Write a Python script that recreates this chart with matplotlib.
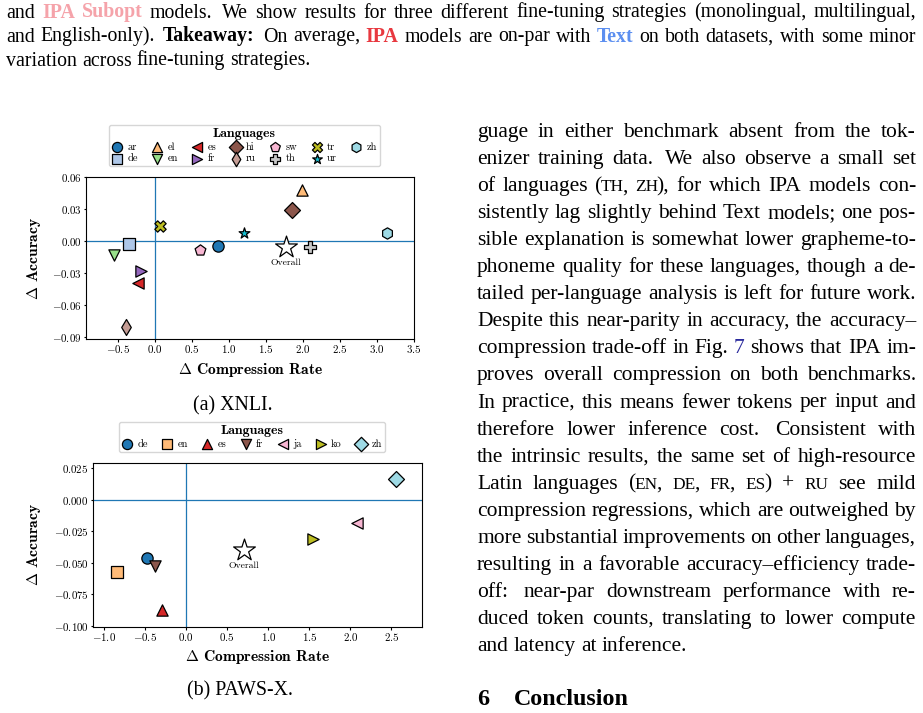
import re
import matplotlib
matplotlib.use("Agg")
import matplotlib.pyplot as plt
from matplotlib.font_manager import FontProperties
from matplotlib.ticker import FuncFormatter, MultipleLocator

plt.rcParams['font.family'] = 'cmr10'
plt.rcParams['mathtext.fontset'] = 'cm'
plt.rcParams['axes.formatter.use_mathtext'] = True

W, H = 923, 713

# ---- XNLI data (delta compression rate, delta accuracy) ----
xnli_langs = ['ar', 'de', 'el', 'en', 'es', 'fr', 'hi', 'ru', 'sw', 'th', 'tr', 'ur', 'zh']
xnli_dcomp = [0.86, -0.34, 1.99, -0.55, -0.23, -0.185, 1.86, -0.39, 0.62, 2.10, 0.07, 1.21, 3.135]
xnli_dacc = [-0.0041, -0.0028, 0.0482, -0.0132, -0.039, -0.0276, 0.0294, -0.0808,
             -0.0085, -0.0053, 0.0141, 0.0078, 0.0078]
xnli_overall = (1.77, -0.0053)

# ---- PAWS-X data ----
paws_langs = ['de', 'en', 'es', 'fr', 'ja', 'ko', 'zh']
paws_dcomp = [-0.484, -0.84, -0.297, -0.378, 2.077, 1.549, 2.56]
paws_dacc = [-0.046, -0.0577, -0.0878, -0.0524, -0.0183, -0.0312, 0.0161]
paws_overall = (0.703, -0.040)

markers = ['o', 's', '^', 'v', '<', '>', 'D', 'd', 'p', 'P', 'X', '*', 'h']
xnli_colors = ['#1f77b4', '#aec7e8', '#ffbb78', '#98df8a', '#d62728', '#9467bd', '#8c564b',
               '#c49c94', '#f7b6d2', '#c7c7c7', '#bcbd22', '#17becf', '#9edae5']
paws_colors = ['#1f77b4', '#ffbb78', '#d62728', '#8c564b', '#f7b6d2', '#bcbd22', '#9edae5']

# ---- page text ----
caption_lines = [
    "and @p:IPA @p:Subopt models. We show results for three different fine-tuning strategies (monolingual, multilingual,",
    "and English-only). @b:Takeaway: On average, @r:IPA models are on-par with @t:Text on both datasets, with some minor",
    "variation across fine-tuning strategies.",
]
body_lines = [
    "guage in either benchmark absent from the tok-",
    "enizer training data. We also observe a small set",
    "of languages (~@sc:TH~, @sc:ZH~), for which IPA models con-",
    "sistently lag slightly behind Text models; one pos-",
    "sible explanation is somewhat lower grapheme-to-",
    "phoneme quality for these languages, though a de-",
    "tailed per-language analysis is left for future work.",
    "Despite this near-parity in accuracy, the accuracy\u2013",
    "compression trade-off in Fig. @ln:7 shows that IPA im-",
    "proves overall compression on both benchmarks.",
    "In practice, this means fewer tokens per input and",
    "therefore lower inference cost. Consistent with",
    "the intrinsic results, the same set of high-resource",
    "Latin languages (~@sc:EN~, @sc:DE~, @sc:FR~, @sc:ES~) + @sc:RU see mild",
    "compression regressions, which are outweighed by",
    "more substantial improvements on other languages,",
    "resulting in a favorable accuracy\u2013efficiency trade-",
    "off: near-par downstream performance with re-",
    "duced token counts, translating to lower compute",
    "and latency at inference.",
]

fig = plt.figure(figsize=(W / 100, H / 100), dpi=100)
fig.patch.set_facecolor('white')
renderer = fig.canvas.get_renderer()

BODY = 15.5
CAP = 14.3
serif = 'Liberation Serif'
body_styles = {
    '': dict(family=serif, size=BODY),
    'sc': dict(family=serif, size=BODY * 0.8),
    'ln': dict(family=serif, size=BODY, color='#2a2a9c'),
}
cap_styles = {
    '': dict(family=serif, size=CAP),
    'b': dict(family=serif, size=CAP, weight='bold'),
    'p': dict(family=serif, size=CAP, weight='bold', color='#f5a3aa'),
    'r': dict(family=serif, size=CAP, weight='bold', color='#e8383f'),
    't': dict(family=serif, size=CAP, weight='bold', color='#5c8ff0'),
}


def parse_word(word):
    segs = []
    for part in word.split('~'):
        if not part:
            continue
        m = re.match(r'@(\w+):(.*)', part)
        if m:
            segs.append((m.group(2), m.group(1)))
        else:
            segs.append((part, ''))
    return segs


def seg_width(s, style):
    t = fig.text(0, 0, s, **style)
    w = t.get_window_extent(renderer).width
    t.remove()
    return w


def word_width(wd, styles):
    w = 0
    for j, (s, k) in enumerate(wd):
        w += seg_width(s, styles[k])
        if j < len(wd) - 1:
            w -= 1.5  # tighten joins between differently styled pieces
    return w


def draw_line(line, styles, x0, x1, y, justify=True):
    words = [parse_word(w) for w in line.split(' ')]
    widths = [word_width(wd, styles) for wd in words]
    # a bit more room after sentence ends, like TeX does
    weights = []
    for wd in words[:-1]:
        last = wd[-1][0]
        weights.append(1.4 if (last.endswith('.') or last.endswith(':')) and last != 'Fig.' else 1.0)
    space = styles['']['size'] * 100 / 72 * 0.25
    if justify and len(words) > 1:
        unit = (x1 - x0 - sum(widths)) / sum(weights)
    else:
        unit = space
    x = x0
    for i, wd in enumerate(words):
        for j, (s, k) in enumerate(wd):
            t = fig.text(x / W, 1 - y / H, s, va='baseline', ha='left', **styles[k])
            x += t.get_window_extent(renderer).width
            if j < len(wd) - 1:
                x -= 1.5
        if i < len(weights):
            x += unit * weights[i]


# caption across the page
for i, line in enumerate(caption_lines):
    draw_line(line, cap_styles, 6, 916, 17.5 + 24 * i, justify=i < len(caption_lines) - 1)

# right column body
for i, line in enumerate(body_lines):
    draw_line(line, body_styles, 477, 916, 137 + 27.05 * i, justify=i < len(body_lines) - 1)

fig.text(477 / W, 1 - 705 / H, '6', family=serif, size=17.3, weight='bold', va='baseline')
fig.text(514 / W, 1 - 705 / H, 'Conclusion', family=serif, size=17.3, weight='bold', va='baseline')

fig.text(233 / W, 1 - 410 / H, '(a) XNLI.', family=serif, size=CAP, ha='center', va='baseline')
fig.text(240 / W, 1 - 695 / H, '(b) PAWS-X.', family=serif, size=CAP, ha='center', va='baseline')


def make_panel(rect, langs, dcomp, dacc, colors, overall, xlim, ylim, ytick_step, yfmt,
               legend_center):
    l, t, r, b = rect
    ax = fig.add_axes([l / W, 1 - b / H, (r - l) / W, (b - t) / H])
    ax.axhline(0, color='#1f77b4', lw=0.9, zorder=1)
    ax.axvline(0, color='#1f77b4', lw=0.9, zorder=1)
    for i, lang in enumerate(langs):
        ax.scatter(dcomp[i], dacc[i], marker=markers[i], s=66, color=colors[i],
                   edgecolor='black', linewidth=0.9, zorder=3, label=lang)
    ax.scatter(*overall, marker='*', s=270, facecolor='white', edgecolor='black',
               linewidth=0.9, zorder=3)
    ax.annotate('Overall', overall, xytext=(0, -11.5), textcoords='offset points',
                ha='center', va='center', fontsize=7.0)
    ax.set_xlim(*xlim)
    ax.set_ylim(*ylim)
    ax.xaxis.set_major_locator(MultipleLocator(0.5))
    ax.yaxis.set_major_locator(MultipleLocator(ytick_step))
    ax.xaxis.set_major_formatter(FuncFormatter(lambda v, p: r'$%.1f$' % v))
    ax.yaxis.set_major_formatter(FuncFormatter(lambda v, p: (r'$' + yfmt + r'$') % v))
    ax.tick_params(labelsize=7.9, length=1.8, width=0.8, pad=1.2)
    ax.set_xlabel(r'$\Delta$ Compression Rate', fontfamily='cmb10', fontsize=11.2)
    ax.set_ylabel(r'$\Delta$ Accuracy', fontfamily='cmb10', fontsize=11.2)
    # place axis labels where the reference has them (pixel offsets from the spines)
    ax.xaxis.set_label_coords(0.5, -21.5 / (b - t))
    ax.yaxis.set_label_coords((43 - l) / (r - l), 0.5)
    ax.legend(ncol=7, title='Languages', loc='lower center',
              bbox_to_anchor=(legend_center[0] / W, 1 - legend_center[1] / H),
              bbox_transform=fig.transFigure,
              prop=FontProperties(family='cmr10', size=7.5),
              title_fontproperties=FontProperties(family='cmb10', size=10),
              markerscale=0.9, handlelength=1.0, handletextpad=0.5,
              columnspacing=1.35, labelspacing=0.22, borderpad=0.3)
    return ax


make_panel((85.7, 176.7, 414.3, 339.3), xnli_langs, xnli_dcomp, xnli_dacc, xnli_colors,
           xnli_overall, (-0.93, 3.51), (-0.092, 0.0605), 0.03, '%.2f', (244.3, 171.7))
make_panel((92.7, 462.7, 421.7, 626.7), paws_langs, paws_dcomp, paws_dacc, paws_colors,
           paws_overall, (-1.14, 2.87), (-0.1008, 0.0294), 0.025, '%.3f', (251.8, 457.3))

fig.savefig('out.png', dpi=100)
